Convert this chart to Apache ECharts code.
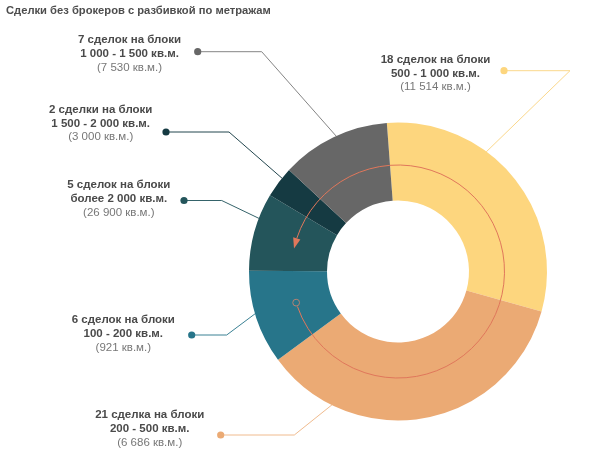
<!DOCTYPE html>
<html><head><meta charset="utf-8">
<script src="https://cdn.jsdelivr.net/npm/echarts@6/dist/echarts.min.js"></script>
<style>html,body{margin:0;padding:0;background:#fff}#c{width:600px;height:470px}</style>
</head><body><div id="c"></div>
<script>
// ---- data ----
const titleText = 'Сделки без брокеров с разбивкой по метражам';
const categories = ['500 - 1 000 кв.м.', '200 - 500 кв.м.', '100 - 200 кв.м.', 'более 2 000 кв.м.', '1 500 - 2 000 кв.м.', '1 000 - 1 500 кв.м.'];
const dealCounts = [18, 21, 6, 5, 2, 7];
const dealWords = ['сделок', 'сделка', 'сделок', 'сделок', 'сделки', 'сделок'];
const areas = ['11 514 кв.м.', '6 686 кв.м.', '921 кв.м.', '26 900 кв.м.', '3 000 кв.м.', '7 530 кв.м.'];

// ---- styles / layout ----
const colors = ['#FDD67E', '#EBAA74', '#27758A', '#24555B', '#153A42', '#676767'];
const lineColors = ['#FBD88C', '#F0BB8E', '#3A8194', '#35636A', '#23464E', '#858585'];
const CX = 398, CY = 271.5, R_IN = 71, R_OUT = 149;
const labelPos = [[435.5, 73.5], [149.7, 429], [123.3, 334], [118.8, 199], [100.7, 123.5], [129.5, 54]];
const dotPos = [[504, 70.7], [220.7, 435], [191.7, 335], [184, 200.5], [166, 132], [197.7, 51.7]];
const bendPos = [[570, 70.7], [294.3, 435], [226.7, 335], [221.7, 200.5], [229, 132], [261.7, 51.7]];
const anchorDeg = [36.4, 206.3, 253.6, 290.9, 308.8, 335.5];
const FONT = '"Liberation Sans", Arial, Helvetica, sans-serif';
const LABEL_SIZE = 11.5;

function polar(deg, r) { // deg clockwise from top
  const a = deg * Math.PI / 180;
  return [CX + r * Math.sin(a), CY - r * Math.cos(a)];
}

const chart = echarts.init(document.getElementById('c'), null, {renderer: 'canvas'});

const pieData = dealCounts.map((v, i) => ({
  value: v,
  name: categories[i],
  itemStyle: {color: colors[i]},
  labelLine: {lineStyle: {color: lineColors[i], width: 1}}
}));

// arrow decoration
const ARC_R = 106.5;
const startDeg = 253, tipDeg = 282.5, headLen = 5.6;
const baseDeg = tipDeg + headLen;
const tip = polar(tipDeg, ARC_R);
const b1 = polar(baseDeg, ARC_R - 3.8);
const b2 = polar(baseDeg, ARC_R + 3.8);
const circ = polar(startDeg, ARC_R);
const rad = d => d * Math.PI / 180;

const graphics = [
  {
    type: 'arc', z: 100, silent: true,
    shape: {cx: CX, cy: CY, r: ARC_R, startAngle: rad(baseDeg - 360 - 90), endAngle: rad(startDeg - 90 - 2.2), clockwise: true},
    style: {stroke: '#E0775B', lineWidth: 1, fill: null}
  },
  {
    type: 'polygon', z: 100, silent: true,
    shape: {points: [tip, b1, b2]},
    style: {fill: '#E0775B'}
  },
  {
    type: 'circle', z: 100, silent: true,
    shape: {cx: circ[0], cy: circ[1], r: 3.4},
    style: {stroke: '#B58272', lineWidth: 1, fill: null}
  }
].concat(dotPos.map((p, i) => ({
  type: 'circle', z: 100, silent: true,
  shape: {cx: p[0], cy: p[1], r: 3.6},
  style: {fill: colors[i]}
})));

chart.setOption({
  animation: false,
  backgroundColor: '#ffffff',
  title: {
    text: titleText, left: 6, top: 5, padding: 0,
    textStyle: {fontSize: 11.2, fontWeight: 'bold', color: '#4d4d4d', fontFamily: FONT}
  },
  series: [{
    type: 'pie',
    center: [CX, CY],
    radius: [R_IN, R_OUT],
    startAngle: 94.3,
    clockwise: true,
    avoidLabelOverlap: false,
    minShowLabelAngle: 0,
    emphasis: {disabled: true},
    data: pieData,
    label: {
      show: true,
      position: 'outside',
      fontFamily: FONT,
      formatter: p => {
        const i = p.dataIndex;
        return '{b|' + dealCounts[i] + ' ' + dealWords[i] + ' на блоки}\n{b|' + categories[i] + '}\n{n|(' + areas[i] + ')}';
      },
      rich: {
        b: {fontSize: LABEL_SIZE, fontWeight: 'bold', color: '#4a4a4a', lineHeight: 13.7, fontFamily: FONT, align: 'center'},
        n: {fontSize: LABEL_SIZE, color: '#777777', lineHeight: 13.7, fontFamily: FONT, align: 'center'}
      }
    },
    labelLine: {show: true, length: 10, length2: 10, lineStyle: {width: 1}},
    labelLayout: params => {
      const i = params.dataIndex;
      const a = polar(anchorDeg[i], R_OUT - 0.5);
      return {
        x: labelPos[i][0],
        y: labelPos[i][1],
        align: 'center',
        verticalAlign: 'middle',
        labelLinePoints: [a, bendPos[i], dotPos[i]]
      };
    }
  }],
  graphic: graphics
});
</script>
</body></html>
